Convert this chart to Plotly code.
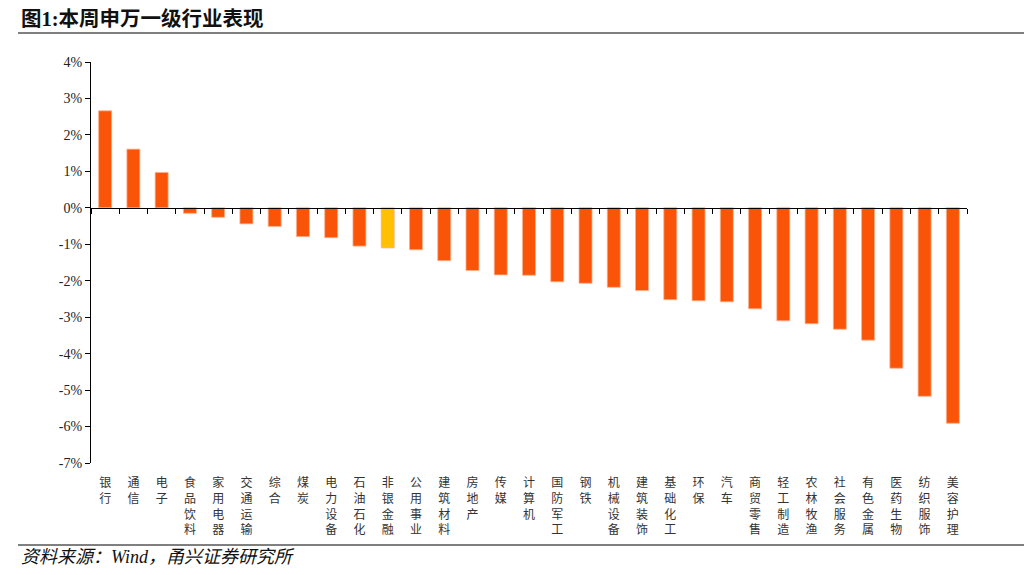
import plotly.graph_objects as go

categories = ["银行", "通信", "电子", "食品饮料", "家用电器", "交通运输", "综合", "煤炭",
              "电力设备", "石油石化", "非银金融", "公用事业", "建筑材料", "房地产", "传媒",
              "计算机", "国防军工", "钢铁", "机械设备", "建筑装饰", "基础化工", "环保",
              "汽车", "商贸零售", "轻工制造", "农林牧渔", "社会服务", "有色金属", "医药生物",
              "纺织服饰", "美容护理"]
values = [2.66, 1.61, 0.97, -0.15, -0.26, -0.44, -0.51, -0.79, -0.82, -1.05, -1.10, -1.15,
          -1.45, -1.72, -1.84, -1.85, -2.03, -2.07, -2.18, -2.27, -2.52, -2.55, -2.58, -2.77,
          -3.10, -3.18, -3.33, -3.63, -4.40, -5.17, -5.91]
highlight = "非银金融"
y_ticks = [4, 3, 2, 1, 0, -1, -2, -3, -4, -5, -6, -7]
y_tick_labels = [f"{v}%" for v in y_ticks]

ORANGE = "#F95408"
YELLOW = "#FFC000"
colors = [YELLOW if c == highlight else ORANGE for c in categories]
tick_text = ["<br>".join(list(c)) for c in categories]

SERIF = "Liberation Serif, Times New Roman, Noto Sans CJK SC, serif"
CJK = "Liberation Serif, Noto Sans CJK SC, serif"

# page body has an 8px margin, so the figure is drawn 8px in from the window edge
W, H = 1016, 559
L, T, R, B = 83, 54, 57, 104
PW, PH = W - L - R, H - T - B

fig = go.Figure()
fig.add_trace(go.Bar(x=categories, y=values, marker=dict(color=colors, line=dict(color="#FDB08C", width=0.8)),
                     xaxis="x", yaxis="y", showlegend=False, hoverinfo="x+y"))
fig.add_trace(go.Scatter(x=categories, y=[0] * len(categories), mode="lines", line=dict(width=0),
                         opacity=0, xaxis="x2", yaxis="y", showlegend=False, hoverinfo="skip"))

ymin, ymax = -7, 4
zero_pos = (0 - ymin) / (ymax - ymin)
xr = [-0.5, len(categories) - 0.5]

fig.update_layout(
    width=W, height=H,
    margin=dict(l=L, r=R, t=T, b=B),
    paper_bgcolor="white", plot_bgcolor="white",
    bargap=0.54,
    xaxis=dict(type="category", categoryorder="array", categoryarray=categories, range=xr,
               anchor="free", position=zero_pos, showline=True, linecolor="black", linewidth=1.3,
               ticks="outside", tickson="boundaries", ticklen=5, tickcolor="black", tickwidth=1,
               showticklabels=False, showgrid=False, zeroline=False),
    xaxis2=dict(type="category", categoryorder="array", categoryarray=categories, range=xr,
                overlaying="x", anchor="y", side="bottom",
                showline=False, ticks="outside", ticklen=9, tickcolor="rgba(0,0,0,0)",
                showgrid=False, zeroline=False,
                tickmode="array", tickvals=categories, ticktext=tick_text,
                tickangle=0, tickfont=dict(family=CJK, size=12, color="#333333")),
    yaxis=dict(range=[ymin, ymax], tickmode="array", tickvals=y_ticks, ticktext=y_tick_labels,
               showline=True, linecolor="black", linewidth=1.3, ticks="outside", ticklen=5,
               tickcolor="black", showgrid=False, zeroline=False,
               tickfont=dict(family=SERIF, size=14, color="#222222")),
)

def px_x(x):  # window px -> paper fraction
    return (x - 8 - L) / PW

def px_y(y):
    return 1 - (y - 8 - T) / PH

fig.add_annotation(text="<b>图1:本周申万一级行业表现</b>", xref="paper", yref="paper",
                   x=px_x(19), y=px_y(19), xanchor="left", yanchor="middle",
                   showarrow=False, font=dict(family=CJK, size=20.5, color="#111111"))
fig.add_shape(type="line", xref="paper", yref="paper", x0=px_x(18), x1=px_x(1027),
              y0=px_y(33), y1=px_y(33), line=dict(color="black", width=1))
fig.add_shape(type="line", xref="paper", yref="paper", x0=px_x(18), x1=px_x(1027),
              y0=px_y(545), y1=px_y(545), line=dict(color="black", width=1))
fig.add_annotation(text="<i>资料来源：Wind，甬兴证券研究所</i>", xref="paper", yref="paper",
                   x=px_x(19), y=px_y(557), xanchor="left", yanchor="middle",
                   showarrow=False, font=dict(family=CJK, size=18, color="#111111"))

fig.write_html("out.html")
